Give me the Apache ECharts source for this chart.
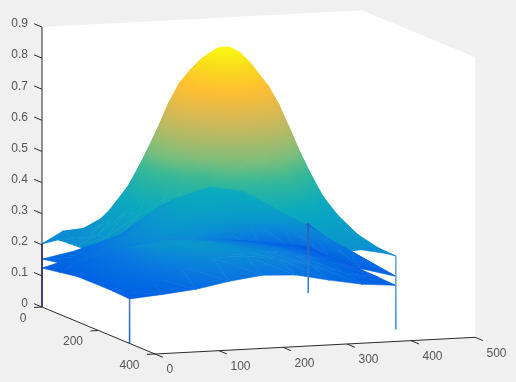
<!DOCTYPE html>
<html>
<head>
<meta charset="utf-8">
<style>html,body{margin:0;padding:0;background:#f0f0f0}#chart{width:516px;height:382px}</style>
<script src="https://cdn.jsdelivr.net/npm/echarts@6/dist/echarts.min.js"></script>
</head>
<body>
<div id="chart"></div>
<script>
// axis ticks
var xTicks = [0, 100, 200, 300, 400, 500]
var yTicks = [0, 200, 400]
var zTicks = [0, 0.1, 0.2, 0.3, 0.4, 0.5, 0.6, 0.7, 0.8, 0.9]
var xTickLabels = ['0', '100', '200', '300', '400', '500']
var yTickLabels = ['0', '200', '400']
var zTickLabels = ['0', '0.1', '0.2', '0.3', '0.4', '0.5', '0.6', '0.7', '0.8', '0.9']

// top surface (the big peak)
var xs1 = [0, 32, 64, 96, 112, 128, 144, 160, 176, 192, 208, 224, 240, 256, 272, 288, 304, 320, 336, 352, 384, 416]
var ys1 = [0, 31, 62, 93, 124, 155, 186, 217, 248, 279, 310]
var z1 = [
  [.203, .24, .245, .26, .274, .29, .307, .322, .335, .345, .35, .35, .345, .335, .322, .307, .29, .274, .26, .247, .232, .226],
  [.23, .236, .26, .305, .33, .36, .389, .417, .442, .458, .467, .467, .458, .442, .417, .389, .36, .33, .305, .28, .245, .212],
  [.238, .248, .29, .36, .4, .45, .495, .537, .575, .6, .615, .615, .6, .575, .537, .495, .45, .4, .36, .32, .265, .198],
  [.24, .26, .325, .42, .48, .54, .605, .662, .708, .74, .755, .755, .74, .708, .662, .605, .54, .48, .42, .367, .29, .19],
  [.242, .275, .35, .467, .537, .615, .69, .75, .787, .82, .84, .84, .82, .787, .75, .69, .615, .537, .467, .4, .307, .194],
  [.243, .28, .36, .485, .56, .64, .716, .772, .818, .852, .87, .87, .852, .818, .772, .716, .64, .56, .485, .417, .315, .202],
  [.242, .275, .35, .467, .537, .615, .69, .75, .787, .82, .84, .84, .82, .787, .75, .69, .615, .537, .467, .4, .307, .21],
  [.241, .26, .325, .42, .48, .54, .605, .662, .708, .74, .755, .755, .74, .708, .662, .605, .54, .48, .42, .367, .29, .217],
  [.238, .248, .29, .36, .4, .45, .495, .537, .575, .6, .615, .615, .6, .575, .537, .495, .45, .4, .36, .32, .285, .225],
  [.235, .236, .26, .305, .33, .36, .389, .417, .442, .458, .467, .467, .458, .442, .417, .389, .36, .33, .305, .28, .27, .232],
  [.229, .235, .24, .26, .274, .29, .307, .322, .335, .345, .35, .35, .345, .335, .322, .307, .29, .274, .26, .26, .27, .236]
]

// the two lower surfaces share a coarser grid
var xs2 = [0, 52, 104, 156, 208, 260, 312, 364, 416]
var ys2 = [0, 62, 124, 186, 248, 310]
var z2 = [
  [.154, .175, .195, .23, .245, .24, .225, .222, .222],
  [.165, .18, .25, .33, .36, .345, .29, .225, .205],
  [.17, .225, .3, .38, .41, .39, .32, .235, .187],
  [.165, .23, .3, .37, .4, .38, .32, .25, .182],
  [.16, .215, .28, .34, .36, .35, .31, .245, .178],
  [.16, .2, .25, .27, .275, .27, .24, .2, .171]
]
var c2 = [
  [.15, .17, .2, .23, .25, .24, .23, .2, .18],
  [.16, .19, .26, .34, .37, .37, .33, .27, .2],
  [.165, .23, .31, .39, .42, .42, .37, .28, .19],
  [.16, .23, .31, .38, .4, .39, .33, .25, .18],
  [.155, .2, .27, .32, .34, .33, .28, .21, .17],
  [.13, .135, .14, .145, .145, .14, .135, .135, .14]
]
var z3 = [
  [.125, .155, .17, .19, .195, .19, .18, .165, .15],
  [.135, .18, .2, .218, .22, .21, .195, .178, .145],
  [.145, .22, .232, .242, .234, .215, .203, .185, .148],
  [.146, .21, .235, .245, .24, .225, .205, .18, .147],
  [.146, .19, .215, .235, .235, .22, .195, .165, .145],
  [.143, .152, .163, .183, .197, .192, .17, .151, .142]
]
var c3 = [
  [.12, .16, .22, .25, .24, .19, .17, .14, .12],
  [.13, .2, .27, .31, .28, .22, .18, .15, .13],
  [.14, .21, .3, .33, .31, .26, .23, .165, .13],
  [.14, .21, .28, .32, .31, .27, .235, .16, .13],
  [.15, .19, .24, .28, .28, .26, .22, .17, .135],
  [.14, .15, .17, .2, .21, .2, .165, .145, .13]
]

// corner spikes dropping to the floor: x, y, top z, colour at top, colour at bottom
var spikeX = [0, 0, 416, 416]
var spikeY = [0, 310, 310, 0]
var spikeTop = [.2025, .143, .236, .226]
var spikeTopColor = ['#3c3296', '#5a78be', '#64aadc', '#37559f']
var spikeBottomColor = ['#3c3296', '#146ed7', '#3c96e6', '#328ce1']

// colormap stops
var cmapPos = [0, .1, .17, .27, .37, .47, .565, .62, .69, .77, .86, .93, 1]
var cmapRgb = [
  [53, 42, 135], [15, 75, 215], [0, 100, 228], [10, 125, 222], [10, 150, 205], [10, 170, 190],
  [55, 185, 150], [120, 190, 125], [170, 186, 105], [215, 185, 85], [255, 190, 50], [250, 215, 30], [248, 250, 15]
]
var cMax = 0.871

// projection of the 3d box on the page, taken from the axis corners
var view = {ox: 42, oy: 307, xx: 0.64, xy: -0.0334, yx: 0.2825, yy: 0.1175, zy: -311.1}

function project(x, y, z) {
  return [view.ox + view.xx * x + view.yx * y, view.oy + view.xy * x + view.yy * y + view.zy * z]
}

function cmap(c) {
  var t = Math.max(0, Math.min(1, c / cMax))
  var i = 0
  while (i < cmapPos.length - 2 && t > cmapPos[i + 1]) i++
  var f = (t - cmapPos[i]) / (cmapPos[i + 1] - cmapPos[i])
  var a = cmapRgb[i]
  var b = cmapRgb[i + 1]
  return 'rgb(' + Math.round(a[0] + (b[0] - a[0]) * f) + ',' + Math.round(a[1] + (b[1] - a[1]) * f) + ',' + Math.round(a[2] + (b[2] - a[2]) * f) + ')'
}

// top surface reads a little lighter than its height where it is low
function c1At(z) {
  return z + 0.06 * Math.max(0, 0.5 - z) / 0.3
}

function buildTriangles(xs, ys, zz, cc) {
  var tris = []
  function vert(i, j) {
    var p = project(xs[i], ys[j], zz[j][i])
    return {x: xs[i], y: ys[j], sx: p[0], sy: p[1], c: cc ? cc[j][i] : c1At(zz[j][i])}
  }
  for (var j = 0; j < ys.length - 1; j++) {
    for (var i = 0; i < xs.length - 1; i++) {
      tris.push([vert(i, j), vert(i + 1, j), vert(i + 1, j + 1)])
      tris.push([vert(i, j), vert(i + 1, j + 1), vert(i, j + 1)])
    }
  }
  function depth(t) {
    var d = 0
    t.forEach(function (v) { d += v.y / 400 * 0.94 - v.x / 500 * 0.333 })
    return d
  }
  tris.sort(function (a, b) { return depth(a) - depth(b) })
  return tris
}

function triangleFill(pts, t) {
  var dx1 = pts[1][0] - pts[0][0]
  var dy1 = pts[1][1] - pts[0][1]
  var dx2 = pts[2][0] - pts[0][0]
  var dy2 = pts[2][1] - pts[0][1]
  var dc1 = t[1].c - t[0].c
  var dc2 = t[2].c - t[0].c
  var det = dx1 * dy2 - dx2 * dy1
  var cMin = Math.min(t[0].c, t[1].c, t[2].c)
  var cTop = Math.max(t[0].c, t[1].c, t[2].c)
  if (Math.abs(det) < 1e-6 || cTop - cMin < 1e-4) return cmap((cMin + cTop) / 2)
  var a = (dc1 * dy2 - dc2 * dy1) / det
  var b = (dx1 * dc2 - dx2 * dc1) / det
  var g = a * a + b * b
  var s0 = (cMin - t[0].c) / g
  var s1 = (cTop - t[0].c) / g
  var stops = []
  for (var k = 0; k <= 4; k++) stops.push({offset: k / 4, color: cmap(cMin + (cTop - cMin) * k / 4)})
  return new echarts.graphic.LinearGradient(
    pts[0][0] + a * s0, pts[0][1] + b * s0, pts[0][0] + a * s1, pts[0][1] + b * s1, stops, true)
}

function surfaceSeries(tris) {
  return {
    type: 'custom',
    silent: true,
    clip: false,
    animation: false,
    data: tris.map(function (t, i) { return [i, 0] }),
    renderItem: function (params, api) {
      var t = tris[api.value(0)]
      var pts = t.map(function (v) { return api.coord([v.sx, v.sy]) })
      var fill = triangleFill(pts, t)
      return {type: 'polygon', shape: {points: pts}, style: {fill: fill, stroke: fill, lineWidth: 0.6}}
    }
  }
}

// walls of the box
var wallCorners = [[0, 0, 0], [0, 400, 0], [500, 400, 0], [500, 400, 0.9], [500, 0, 0.9], [0, 0, 0.9]]
var wallSeries = {
  type: 'custom', silent: true, clip: false, animation: false, data: [[0, 0]],
  renderItem: function (params, api) {
    var pts = wallCorners.map(function (c) { return api.coord(project(c[0], c[1], c[2])) })
    return {type: 'polygon', shape: {points: pts}, style: {fill: '#fff'}}
  }
}

var spikeSeries = {
  type: 'custom', silent: true, clip: false, animation: false,
  data: spikeX.map(function (v, i) { return [i, 0] }),
  renderItem: function (params, api) {
    var i = api.value(0)
    var a = api.coord(project(spikeX[i], spikeY[i], spikeTop[i]))
    var b = api.coord(project(spikeX[i], spikeY[i], 0))
    var stroke = new echarts.graphic.LinearGradient(a[0], a[1], b[0], b[1], [
      {offset: 0, color: spikeTopColor[i]}, {offset: 1, color: spikeBottomColor[i]}
    ], true)
    return {type: 'line', shape: {x1: a[0], y1: a[1], x2: b[0], y2: b[1]}, style: {stroke: stroke, lineWidth: 1.6}}
  }
}

// axis lines and ticks as 3d segments
var axisSegments = [
  [[0, 0, 0], [0, 0, 0.9]],
  [[0, 0, 0], [0, 400, 0]],
  [[0, 400, 0], [500, 400, 0]]
]
xTicks.forEach(function (v) { axisSegments.push([[v, 400, 0], [v, 428, 0]]) })
yTicks.forEach(function (v) { axisSegments.push([[0, v, 0], [-12.5, v, 0]]) })
zTicks.forEach(function (v) { axisSegments.push([[0, 0, v], [0, -28, v]]) })

var axisSeries = {
  type: 'custom', silent: true, clip: false, animation: false,
  data: axisSegments.map(function (s, i) { return [i, 0] }),
  renderItem: function (params, api) {
    var s = axisSegments[api.value(0)]
    var a = api.coord(project(s[0][0], s[0][1], s[0][2]))
    var b = api.coord(project(s[1][0], s[1][1], s[1][2]))
    return {type: 'line', shape: {x1: a[0], y1: a[1], x2: b[0], y2: b[1]}, style: {stroke: '#2b2b2b', lineWidth: 1}}
  }
}

// tick labels
var labels = []
xTicks.forEach(function (v, i) { labels.push({p: project(v, 400, 0), dx: 11.5, dy: 16, text: xTickLabels[i], align: 'left'}) })
yTicks.forEach(function (v, i) { labels.push({p: project(0, v, 0), dx: -15.5, dy: 11.5, text: yTickLabels[i], align: 'right'}) })
zTicks.forEach(function (v, i) { labels.push({p: project(0, 0, v), dx: -14, dy: -3, text: zTickLabels[i], align: 'right'}) })

var labelSeries = {
  type: 'custom', silent: true, clip: false, animation: false,
  data: labels.map(function (l, i) { return [i, 0] }),
  renderItem: function (params, api) {
    var l = labels[api.value(0)]
    var p = api.coord(l.p)
    return {
      type: 'text',
      style: {
        text: l.text, x: p[0] + l.dx, y: p[1] + l.dy, fill: '#555',
        font: '12px "Liberation Sans"', align: l.align, verticalAlign: 'middle'
      }
    }
  }
}

var chart = echarts.init(document.getElementById('chart'))
chart.setOption({
  animation: false,
  backgroundColor: '#f0f0f0',
  grid: {left: 0, right: 0, top: 0, bottom: 0},
  xAxis: {type: 'value', min: 0, max: 516, show: false},
  yAxis: {type: 'value', min: 0, max: 382, inverse: true, show: false},
  series: [
    wallSeries,
    surfaceSeries(buildTriangles(xs1, ys1, z1, null)),
    surfaceSeries(buildTriangles(xs2, ys2, z2, c2)),
    surfaceSeries(buildTriangles(xs2, ys2, z3, c3)),
    spikeSeries,
    axisSeries,
    labelSeries
  ]
})
</script>
</body>
</html>
